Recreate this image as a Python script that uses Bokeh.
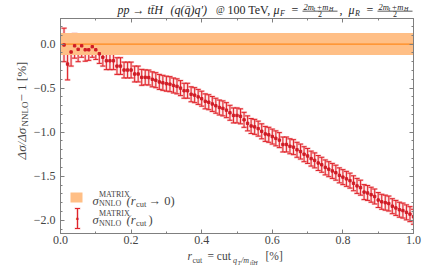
from math import pi
from bokeh.plotting import figure
from bokeh.layouts import column, row
from bokeh.models import (Range1d, LinearAxis, SingleIntervalTicker, CustomJSTickFormatter,
                          Whisker, TeeHead, ColumnDataSource, Label, BoxAnnotation)
from bokeh.embed import file_html
from bokeh.resources import INLINE

# ---------------- data ----------------
r_cut = [0.01, 0.02, 0.03, 0.04, 0.05, 0.06, 0.07, 0.08, 0.09, 0.10,
         0.11, 0.12, 0.13, 0.14, 0.15, 0.16, 0.17, 0.18, 0.19, 0.20,
         0.21, 0.22, 0.23, 0.24, 0.25, 0.26, 0.27, 0.28, 0.29, 0.30,
         0.31, 0.32, 0.33, 0.34, 0.35, 0.36, 0.37, 0.38, 0.39, 0.40,
         0.41, 0.42, 0.43, 0.44, 0.45, 0.46, 0.47, 0.48, 0.49, 0.50,
         0.51, 0.52, 0.53, 0.54, 0.55, 0.56, 0.57, 0.58, 0.59, 0.60,
         0.61, 0.62, 0.63, 0.64, 0.65, 0.66, 0.67, 0.68, 0.69, 0.70,
         0.71, 0.72, 0.73, 0.74, 0.75, 0.76, 0.77, 0.78, 0.79, 0.80,
         0.81, 0.82, 0.83, 0.84, 0.85, 0.86, 0.87, 0.88, 0.89, 0.90,
         0.91, 0.92, 0.93, 0.94, 0.95, 0.96, 0.97, 0.98, 0.99, 1.00]
delta = [-0.01, -0.227, -0.09, -0.02, -0.06, -0.02, -0.065, -0.065, -0.03, -0.065,
         -0.11, -0.15, -0.19, -0.19, -0.19, -0.25, -0.25, -0.295, -0.295, -0.295,
         -0.34, -0.34, -0.378, -0.378, -0.38, -0.40, -0.41, -0.43, -0.44, -0.45,
         -0.455, -0.47, -0.48, -0.50, -0.53, -0.53, -0.57, -0.58, -0.60, -0.62,
         -0.65, -0.66, -0.68, -0.70, -0.72, -0.73, -0.75, -0.78, -0.81, -0.81,
         -0.82, -0.86, -0.90, -0.93, -0.94, -0.96, -0.99, -1.02, -1.03, -1.05,
         -1.07, -1.09, -1.14, -1.14, -1.16, -1.17, -1.20, -1.22, -1.25, -1.27,
         -1.30, -1.32, -1.35, -1.37, -1.40, -1.42, -1.44, -1.46, -1.49, -1.51,
         -1.53, -1.55, -1.58, -1.61, -1.63, -1.68, -1.69, -1.71, -1.73, -1.77,
         -1.79, -1.80, -1.81, -1.84, -1.86, -1.88, -1.89, -1.91, -1.93, -1.96]
err = [0.19, 0.18, 0.16, 0.14, 0.14, 0.13, 0.13, 0.12, 0.12, 0.11,
       0.11, 0.10, 0.10, 0.10, 0.10, 0.095, 0.095, 0.09, 0.09, 0.09,
       0.09, 0.09, 0.09, 0.085, 0.085, 0.085, 0.085, 0.085, 0.085, 0.085,
       0.085, 0.085, 0.085, 0.085, 0.085, 0.085, 0.085, 0.085, 0.085, 0.085,
       0.085, 0.085, 0.085, 0.085, 0.085, 0.085, 0.085, 0.085, 0.085, 0.085,
       0.085, 0.085, 0.085, 0.085, 0.085, 0.085, 0.085, 0.085, 0.085, 0.085,
       0.085, 0.085, 0.085, 0.085, 0.085, 0.085, 0.085, 0.085, 0.085, 0.085,
       0.085, 0.085, 0.085, 0.085, 0.085, 0.085, 0.085, 0.085, 0.085, 0.085,
       0.085, 0.085, 0.085, 0.085, 0.085, 0.085, 0.085, 0.085, 0.085, 0.085,
       0.085, 0.085, 0.085, 0.085, 0.085, 0.085, 0.085, 0.085, 0.085, 0.085]
band_x = [0.0, 1.0]
band_center = [0.0, 0.0]
band_half = 0.125
x_limits = (0.0, 1.0)
y_limits = (-2.15, 0.29)

# ---------------- style ----------------
FONT = "Liberation Serif"
AXC = "#7f7f7f"
TXT = "#444444"
TTL = "#262626"
RED = "#e0242c"
HALO = "#f29a9a"
DOT = "#d01c26"
BAND = "#ffbf86"
BAND_LINE = "#ff8a1c"

W_ALL = 445
W_YLAB = 30
W_MAIN = W_ALL - W_YLAB
H_TITLE = 18
H_MAIN = 231
H_XLAB = 267 - H_TITLE - H_MAIN


def text_fig(w, h):
    f = figure(width=w, height=h, output_backend="svg", toolbar_location=None,
               x_axis_type=None, y_axis_type=None, min_border=0,
               x_range=Range1d(0, 1), y_range=Range1d(0, 1))
    f.outline_line_color = None
    f.xgrid.visible = False
    f.ygrid.visible = False
    return f


def lab(fig, text, sx, sy, size, italic=False, color=TXT, angle=0.0, align="left",
        baseline="alphabetic"):
    fig.add_layout(Label(text=text, x=sx, y=sy, x_units="screen", y_units="screen",
                         text_font=FONT, text_font_size=f"{size}px",
                         text_font_style="italic" if italic else "normal",
                         text_color=color, angle=angle, text_align=align,
                         text_baseline=baseline))


def mid(fig, text, sx, sy, size, italic=False, color=TXT, angle=0.0, align="left"):
    lab(fig, text, sx, sy, size, italic, color, angle, align, "middle")


def sbox(fig, left, right, bottom, top, color):
    fig.add_layout(BoxAnnotation(left=left, right=right, bottom=bottom, top=top,
                                 left_units="screen", right_units="screen",
                                 bottom_units="screen", top_units="screen",
                                 fill_color=color, fill_alpha=1.0, line_color=None))


# ---------------- main plot ----------------
p = figure(width=W_MAIN, height=H_MAIN, output_backend="svg", toolbar_location=None,
           x_range=Range1d(*x_limits), y_range=Range1d(*y_limits),
           min_border_left=28, min_border_right=32, min_border_top=0, min_border_bottom=16)
p.outline_line_color = AXC
p.xgrid.visible = False
p.ygrid.visible = False

fmt = CustomJSTickFormatter(code="return tick.toFixed(1).replace('-', '\u2212');")
blank = CustomJSTickFormatter(code="return '';")


def style_axis(ax, show_labels):
    ax.axis_line_color = AXC
    ax.major_tick_line_color = AXC
    ax.minor_tick_line_color = AXC
    ax.major_tick_in = 4
    ax.major_tick_out = 0
    ax.minor_tick_in = 2
    ax.minor_tick_out = 0
    ax.major_label_text_font = FONT
    ax.major_label_text_color = TXT
    if show_labels:
        ax.major_label_text_font_size = "12px"
    else:
        ax.formatter = blank
        ax.major_label_text_font_size = "0px"
        ax.major_label_standoff = 0


p.xaxis[0].ticker = SingleIntervalTicker(interval=0.2, num_minor_ticks=2)
p.xaxis[0].formatter = fmt
p.xaxis[0].major_label_standoff = 2
p.yaxis[0].ticker = SingleIntervalTicker(interval=0.5, num_minor_ticks=5)
p.yaxis[0].formatter = fmt
p.yaxis[0].major_label_standoff = 5
style_axis(p.xaxis[0], True)
style_axis(p.yaxis[0], True)

ax_r = LinearAxis(ticker=SingleIntervalTicker(interval=0.5, num_minor_ticks=5))
ax_t = LinearAxis(ticker=SingleIntervalTicker(interval=0.2, num_minor_ticks=2))
style_axis(ax_r, False)
style_axis(ax_t, False)
p.add_layout(ax_r, "right")
p.add_layout(ax_t, "above")

# band
band_lo = [c - band_half for c in band_center]
band_hi = [c + band_half for c in band_center]
p.varea(x=band_x, y1=band_lo, y2=band_hi, fill_color=BAND, fill_alpha=1.0)
p.line(band_x, band_center, line_color=BAND_LINE, line_width=1.3)

# error bars
src = ColumnDataSource(dict(x=r_cut, y=delta,
                            lo=[d - e for d, e in zip(delta, err)],
                            hi=[d + e for d, e in zip(delta, err)]))


def whiskers(fig, source, **units):
    fig.add_layout(Whisker(base="x", lower="lo", upper="hi", dimension="height", source=source,
                           line_color=HALO, line_width=2.6, line_alpha=0.55,
                           upper_head=TeeHead(size=6, line_color=HALO, line_width=2.2, line_alpha=0.55),
                           lower_head=TeeHead(size=6, line_color=HALO, line_width=2.2, line_alpha=0.55),
                           **units))
    fig.add_layout(Whisker(base="x", lower="lo", upper="hi", dimension="height", source=source,
                           line_color=RED, line_width=1,
                           upper_head=TeeHead(size=5, line_color=RED, line_width=1),
                           lower_head=TeeHead(size=5, line_color=RED, line_width=1),
                           **units))


whiskers(p, src)
p.scatter("x", "y", source=src, marker="square", size=2.4, color=DOT)

# legend (inside the frame, screen units from frame bottom-left)
sbox(p, 10, 22, 31, 41, BAND)
leg_src = ColumnDataSource(dict(x=[17], lo=[5], hi=[25]))
whiskers(p, leg_src, base_units="screen", lower_units="screen", upper_units="screen")
lab(p, "\u25a0", 17, 15.5, 4.5, color=DOT, align="center", baseline="middle")


def sigma_entry(sy, tail):
    lab(p, "\u03c3", 32, sy, 12.5, True)
    lab(p, "MATRIX", 38.5, sy + 6.5, 8)
    lab(p, "NNLO", 38.5, sy - 3, 8)
    lab(p, "(r", 66, sy, 12.5, True)
    lab(p, "cut", 75.5, sy - 3, 8.5)
    lab(p, tail, 88, sy, 12.5)


sigma_entry(33, " \u2192 0)")
sigma_entry(13.5, ")")

# ---------------- title (centres of text boxes, from the figure bottom) ----------------
tf = text_fig(W_ALL, H_TITLE)
TM = 9.0      # main line
mid(tf, "pp \u2192 tt\u0304H", 117, TM, 12, True, TTL)
mid(tf, "(q(q\u0304)q\u2032)", 170, TM, 12, True, TTL)
mid(tf, "@", 215.5, TM - 0.6, 9.5, False, TTL)
mid(tf, "100 TeV,", 227, TM, 12, False, TTL)


def mu(sx, sub):
    mid(tf, "\u03bc", sx, TM, 12, True, TTL)
    mid(tf, sub, sx + 6.5, 5.2, 8, True, TTL)


def frac(sx):
    mid(tf, "2m", sx, 11.4, 8.5, True, TTL)
    mid(tf, "t", sx + 10, 9.2, 6, True, TTL)
    mid(tf, "+m", sx + 13, 11.4, 8.5, True, TTL)
    mid(tf, "H", sx + 25.5, 9.2, 6, True, TTL)
    sbox(tf, sx - 1, sx + 34, 7.0, 7.8, TTL)
    mid(tf, "2", sx + 16.5, 4.7, 8, False, TTL, align="center")


mu(273, "F")
mid(tf, "=", 291, TM, 12, False, TTL)
frac(303)
mid(tf, ",", 339, TM, 12, False, TTL)
mu(348, "R")
mid(tf, "=", 366, TM, 12, False, TTL)
frac(378)

# ---------------- y label (rotated, centred on its text line) ----------------
yf = text_fig(W_YLAB, H_MAIN)
mid(yf, "\u0394\u03c3/\u0394\u03c3", 20.6, 74, 13, True, angle=pi / 2)
mid(yf, "NNLO", 24.5, 107, 9, False, angle=pi / 2)
mid(yf, "\u2212 1 [%]", 20.6, 132, 13, False, angle=pi / 2)

# ---------------- x label ----------------
xf = text_fig(W_ALL, H_XLAB)
XM = 11.4
mid(xf, "r", 187, XM, 11.5, True)
mid(xf, "cut", 192, 7.2, 8)
mid(xf, "= cut", 207, XM, 11.5)
mid(xf, "q", 232.5, 7.2, 8, True)
mid(xf, "T", 237, 5.0, 6, True)
mid(xf, "/m", 240.5, 7.2, 8, True)
mid(xf, "tt\u0304H", 249.5, 5.0, 6, True)
mid(xf, "[%]", 265, XM, 11.5)

page = column(tf, row(yf, p, spacing=0), xf, spacing=0)
open("out.html", "w").write(file_html(page, INLINE))
